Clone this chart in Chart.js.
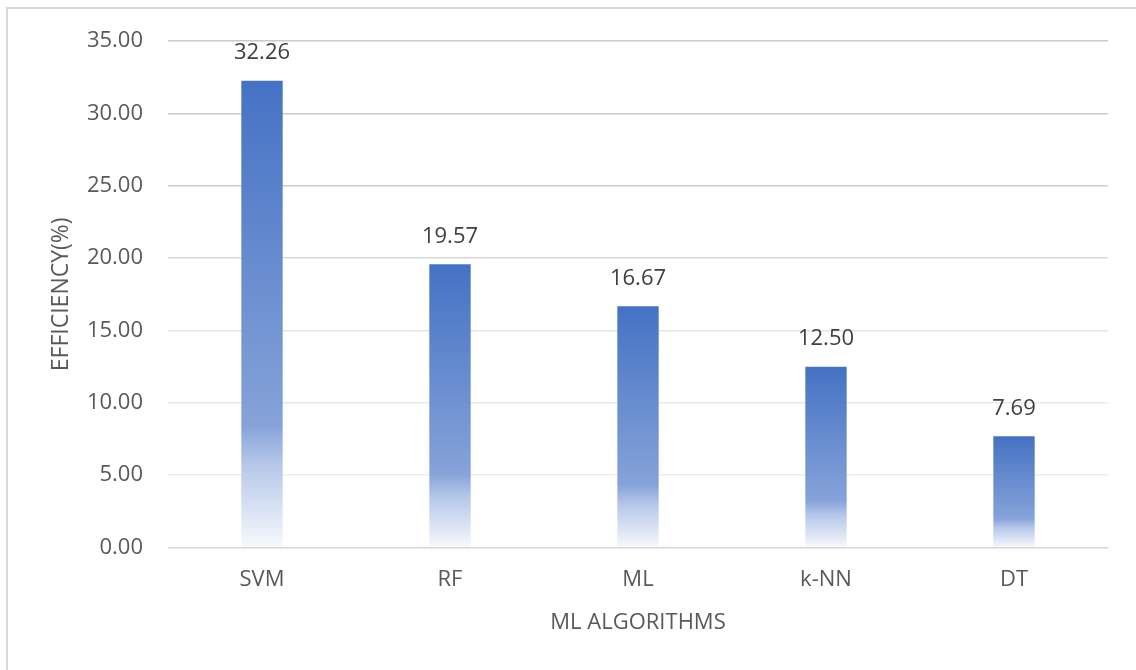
<!DOCTYPE html>
<html>
<head>
<meta charset="utf-8">
<title>ML Algorithms Efficiency</title>
<script src="https://cdn.jsdelivr.net/npm/chart.js"></script>
<style>
  html, body { margin: 0; padding: 0; background: #fff; overflow: hidden; }
  #wrap { position: relative; width: 1136px; height: 670px; }
  #frame { position: absolute; left: 6px; top: 7px; width: 1200px; height: 700px;
           border: 2px solid #D9D9D9; box-sizing: border-box; }
  #effChart { position: absolute; left: 0; top: 0; }
</style>
</head>
<body>
<div id="wrap">
  <div id="frame"></div>
  <canvas id="effChart" width="1136" height="670"></canvas>
</div>
<script>
// efficiency per algorithm
const algorithms = ['SVM', 'RF', 'ML', 'k-NN', 'DT'];
const efficiency = [32.26, 19.57, 16.67, 12.50, 7.69];

const FONT = '"Open Sans", sans-serif';
const TEXT = '#595959';

// grid shade per tick value (upper lines are a bit darker)
const gridShade = { 35: '#CACACA', 30: '#CACACA', 25: '#CDCDCD', 20: '#D9D9D9',
                    15: '#E4E4E4', 10: '#EAEAEA', 5: '#EEEEEE', 0: '#D6D6D6' };

// vertical fade for each bar, from its top down to the axis
function barFill(ctx) {
  const chart = ctx.chart;
  if (!chart.chartArea || !chart.scales.y) return '#4472C4';
  const y = chart.scales.y;
  const top = y.getPixelForValue(ctx.raw);
  const base = y.getPixelForValue(0);
  const g = chart.ctx.createLinearGradient(0, top, 0, base);
  g.addColorStop(0, '#4472C4');
  g.addColorStop(0.74, '#86A3D9');
  g.addColorStop(0.82, '#B5C7E9');
  g.addColorStop(1, '#F7F9FD');
  return g;
}

// value labels above the bars
const valueLabels = {
  id: 'valueLabels',
  afterDatasetsDraw(chart) {
    const c = chart.ctx;
    const meta = chart.getDatasetMeta(0);
    c.save();
    c.font = '22px ' + FONT;
    c.fillStyle = '#404040';
    c.textAlign = 'center';
    c.textBaseline = 'middle';
    meta.data.forEach((bar, i) => {
      c.fillText(efficiency[i].toFixed(2), bar.x, bar.y - 28);
    });
    c.restore();
  }
};

new Chart(document.getElementById('effChart'), {
  type: 'bar',
  data: {
    labels: algorithms,
    datasets: [{
      data: efficiency,
      backgroundColor: barFill,
      borderWidth: 0,
      barPercentage: 0.22,
      categoryPercentage: 1
    }]
  },
  options: {
    responsive: false,
    animation: false,
    events: [],
    layout: { padding: { top: 41, right: 28, bottom: 36, left: 0 } },
    plugins: { legend: { display: false }, tooltip: { enabled: false } },
    scales: {
      x: {
        grid: { display: false, drawTicks: false },
        border: { display: false },
        ticks: { color: TEXT, font: { family: FONT, size: 22 }, padding: 19 },
        title: { display: true, text: 'ML ALGORITHMS', color: TEXT,
                 font: { family: FONT, size: 22, lineHeight: 1 }, padding: 0 }
      },
      y: {
        min: 0, max: 35,
        afterFit(scale) { scale.width = 168; },
        grid: {
          drawTicks: false,
          lineWidth: 1.5,
          color: (c) => gridShade[c.tick.value] || '#D9D9D9'
        },
        border: { display: false },
        ticks: {
          stepSize: 5, padding: 25, color: TEXT,
          font: { family: FONT, size: 22 },
          callback: (v) => Number(v).toFixed(2)
        },
        title: { display: true, text: 'EFFICIENCY(%)', color: TEXT,
                 font: { family: FONT, size: 23 }, padding: { top: 48, bottom: 0 } }
      }
    }
  },
  plugins: [valueLabels]
});
</script>
</body>
</html>
